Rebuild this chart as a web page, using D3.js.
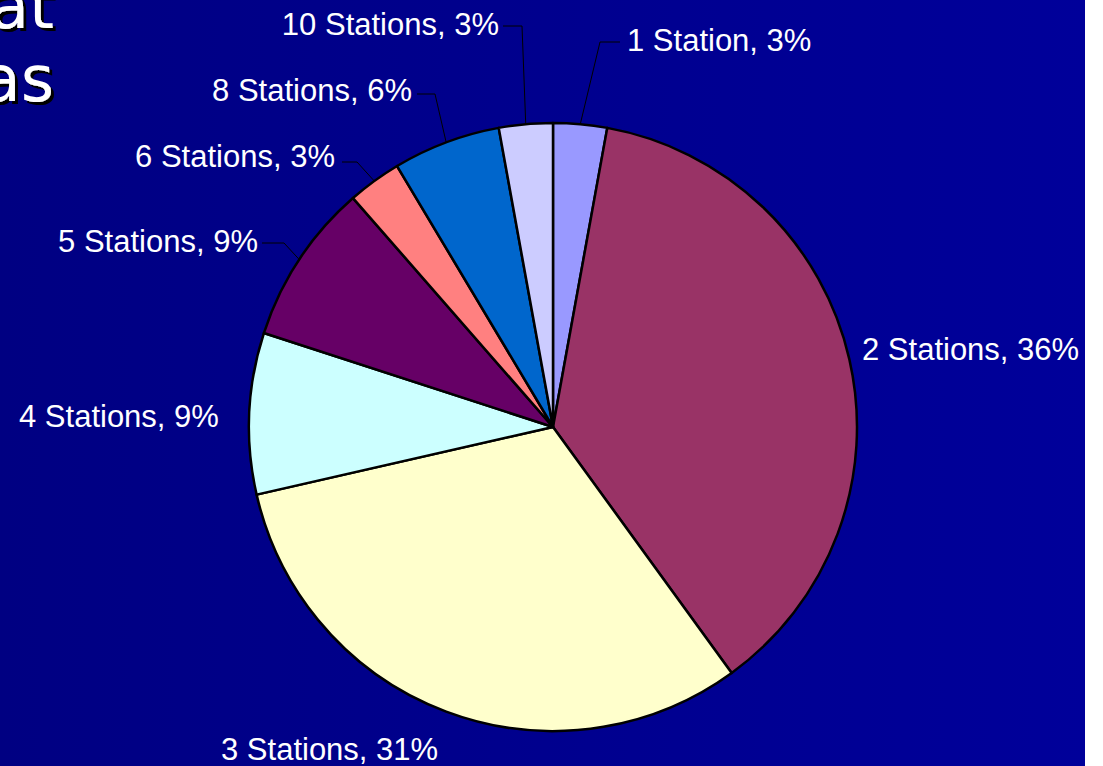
<!DOCTYPE html>
<html>
<head>
<meta charset="utf-8">
<script src="https://cdn.jsdelivr.net/npm/d3@7"></script>
<style>
  html, body { margin: 0; padding: 0; background: #ffffff; }
  svg { display: block; }
</style>
</head>
<body>
<div id="chart"></div>
<script>
// data (counts per group), Excel-style rounded labels
var categories = ['1 Station', '2 Stations', '3 Stations', '4 Stations', '5 Stations', '6 Stations', '8 Stations', '10 Stations'];
var counts = [1, 13, 11, 3, 3, 1, 2, 1];
var pctLabels = ['3%', '36%', '31%', '9%', '9%', '3%', '6%', '3%'];
var colors = ['#9999ff', '#993366', '#ffffcc', '#ccffff', '#660066', '#ff8080', '#0066cc', '#ccccff'];
var titleWords = ['at', 'as'];

var width = 1103, height = 766;
var cx = 553, cy = 427, radius = 304;

// label layout: text position, anchor, leader elbow (none = no leader)
var labelLayout = {
    '1 Station':   { x: 627, y: 51,  anchor: 'start', lineY: 42,  elbowX: 600, endX: 620 },
    '2 Stations':  { x: 862, y: 360, anchor: 'start' },
    '3 Stations':  { x: 221, y: 760, anchor: 'start' },
    '4 Stations':  { x: 19,  y: 427, anchor: 'start' },
    '5 Stations':  { x: 258, y: 252, anchor: 'end', lineY: 243, elbowX: 284, endX: 262 },
    '6 Stations':  { x: 335, y: 167, anchor: 'end', lineY: 162, elbowX: 357, endX: 342 },
    '8 Stations':  { x: 412, y: 101, anchor: 'end', lineY: 94,  elbowX: 435, endX: 417 },
    '10 Stations': { x: 499, y: 35,  anchor: 'end', lineY: 26,  elbowX: 522, endX: 503 }
};

var svg = d3.select('#chart')
    .append('svg')
    .attr('width', width)
    .attr('height', height);

var defs = svg.append('defs');
var grad = defs.append('linearGradient')
    .attr('id', 'bg')
    .attr('x1', '0%').attr('y1', '0%')
    .attr('x2', '100%').attr('y2', '0%');
grad.append('stop').attr('offset', '0%').attr('stop-color', '#000082');
grad.append('stop').attr('offset', '100%').attr('stop-color', '#00009a');

defs.append('filter')
    .attr('id', 'shadow')
    .attr('x', '-20%').attr('y', '-20%')
    .attr('width', '150%').attr('height', '150%')
    .append('feDropShadow')
    .attr('dx', 3).attr('dy', 3)
    .attr('stdDeviation', 0)
    .attr('flood-color', '#000000')
    .attr('flood-opacity', 1);

svg.append('rect')
    .attr('width', 1085)
    .attr('height', height)
    .attr('fill', 'url(#bg)');

// cut-off slide title
svg.append('g')
    .attr('font-family', 'DejaVu Sans, Verdana, sans-serif')
    .attr('font-size', 64)
    .attr('text-anchor', 'end')
    .attr('fill', '#ffffff')
    .attr('filter', 'url(#shadow)')
    .selectAll('text')
    .data(titleWords)
    .enter().append('text')
    .attr('x', 54)
    .attr('y', function(d, i) { return 28 + i * 73; })
    .text(function(d) { return d; });

var data = categories.map(function(c, i) {
    return { name: c, value: counts[i], pct: pctLabels[i], color: colors[i] };
});

var pie = d3.pie()
    .sort(null)
    .value(function(d) { return d.value; });

var arc = d3.arc()
    .innerRadius(0)
    .outerRadius(radius);

var edgeArc = d3.arc()
    .innerRadius(radius)
    .outerRadius(radius);

var g = svg.append('g')
    .attr('transform', 'translate(' + cx + ',' + cy + ')');

var arcs = pie(data);

g.selectAll('path.slice')
    .data(arcs)
    .enter().append('path')
    .attr('class', 'slice')
    .attr('d', arc)
    .attr('fill', function(d) { return d.data.color; })
    .attr('stroke', '#000000')
    .attr('stroke-width', 2.5)
    .attr('stroke-linejoin', 'round');

// leader lines
arcs.forEach(function(d) {
    var L = labelLayout[d.data.name];
    if (L.elbowX === undefined) return;
    var p = edgeArc.centroid(d);
    var px = p[0] + cx, py = p[1] + cy;
    svg.append('polyline')
        .attr('points', [[px, py], [L.elbowX, L.lineY], [L.endX, L.lineY]].map(function(q) { return q.join(','); }).join(' '))
        .attr('fill', 'none')
        .attr('stroke', '#000000')
        .attr('stroke-width', 1);
});

// labels
svg.append('g')
    .attr('font-family', 'Liberation Sans, Arial, sans-serif')
    .attr('font-size', 31)
    .attr('fill', '#ffffff')
    .selectAll('text')
    .data(arcs)
    .enter().append('text')
    .attr('x', function(d) { return labelLayout[d.data.name].x; })
    .attr('y', function(d) { return labelLayout[d.data.name].y; })
    .attr('text-anchor', function(d) { return labelLayout[d.data.name].anchor; })
    .text(function(d) { return d.data.name + ', ' + d.data.pct; });
</script>
</body>
</html>
